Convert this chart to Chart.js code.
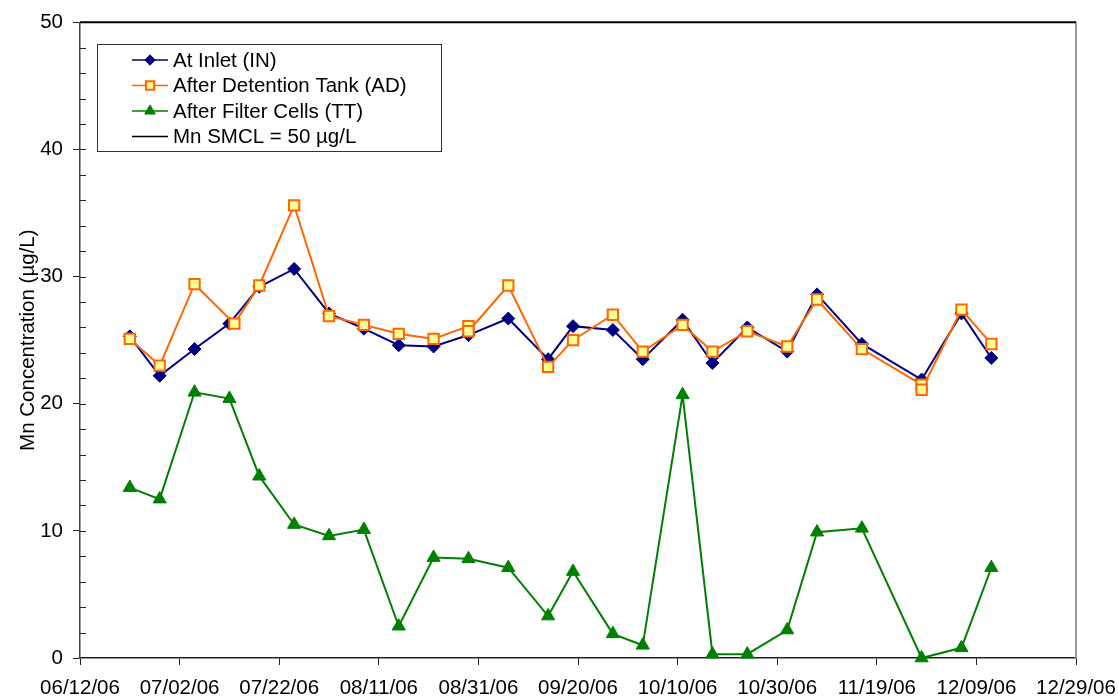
<!DOCTYPE html>
<html><head><meta charset="utf-8">
<script src="https://cdn.jsdelivr.net/npm/chart.js@4.4.0/dist/chart.umd.min.js"></script>
<style>html,body{margin:0;padding:0;background:#fff;}#wrap{width:1118px;height:698px;position:relative;}</style>
</head><body><div id="wrap"><canvas id="c" width="1118" height="698"></canvas></div>
<script>
// ---------- DATA ----------
const axisStart = '06/12/06';
const xTickDates = ['06/12/06','07/02/06','07/22/06','08/11/06','08/31/06','09/20/06','10/10/06','10/30/06','11/19/06','12/09/06','12/29/06'];
const yTickValues = [0,10,20,30,40,50];

const inletDates = ['06/22/06','06/28/06','07/05/06','07/12/06','07/18/06','07/25/06','08/01/06','08/08/06','08/15/06','08/22/06','08/29/06','09/06/06','09/14/06','09/19/06','09/27/06','10/03/06','10/11/06','10/17/06','10/24/06','11/01/06','11/07/06','11/16/06','11/28/06','12/06/06','12/12/06'];
const inletValues = [25.3,22.2,24.3,26.3,29.2,30.6,27.1,25.9,24.6,24.5,25.4,26.7,23.5,26.1,25.8,23.5,26.6,23.2,26.0,24.1,28.6,24.7,21.9,27.1,23.6];

const detentionDates = ['06/22/06','06/28/06','07/05/06','07/13/06','07/18/06','07/25/06','08/01/06','08/08/06','08/15/06','08/22/06','08/29/06','08/29/06','09/06/06','09/14/06','09/19/06','09/27/06','10/03/06','10/11/06','10/17/06','10/24/06','11/01/06','11/07/06','11/16/06','11/28/06','11/28/06','12/06/06','12/12/06'];
const detentionValues = [25.1,23.0,29.4,26.3,29.3,35.6,26.9,26.2,25.5,25.1,26.1,25.7,29.3,22.9,25.0,27.0,24.1,26.2,24.1,25.7,24.5,28.2,24.3,21.5,21.1,27.4,24.7];

const filterDates = ['06/22/06','06/28/06','07/05/06','07/12/06','07/18/06','07/25/06','08/01/06','08/08/06','08/15/06','08/22/06','08/29/06','09/06/06','09/14/06','09/19/06','09/27/06','10/03/06','10/11/06','10/17/06','10/24/06','11/01/06','11/07/06','11/16/06','11/28/06','12/06/06','12/12/06'];
const filterValues = [13.4,12.5,20.9,20.4,14.3,10.5,9.6,10.1,2.5,7.9,7.8,7.1,3.3,6.8,1.9,1.0,20.7,0.3,0.3,2.2,9.9,10.2,0.0,0.8,7.1];

const smclDates = ['06/12/06','12/29/06'];
const smclValues = [50,50];

const seriesNames = ['At Inlet (IN)','After Detention Tank (AD)','After Filter Cells (TT)','Mn SMCL = 50 µg/L'];
const yTitle = 'Mn Concentration (µg/L)';

// ---------- HELPERS ----------
const DAY = 86400000;
function toMs(s){const p=s.split('/');return Date.UTC(2000+ +p[2], +p[0]-1, +p[1]);}
const baseMs = toMs(axisStart);
function toDay(s){return Math.round((toMs(s)-baseMs)/DAY);}
function fmtDay(v){const d=new Date(baseMs+v*DAY);const mm=String(d.getUTCMonth()+1).padStart(2,'0');const dd=String(d.getUTCDate()).padStart(2,'0');const yy=String(d.getUTCFullYear()%100).padStart(2,'0');return mm+'/'+dd+'/'+yy;}
function pts(dates,vals){return dates.map((d,i)=>({x:toDay(d),y:vals[i]}));}

const FONT = '"Liberation Sans", Arial, Helvetica, sans-serif';
const FS = 20.5;
Chart.defaults.font.family = FONT;
Chart.defaults.font.size = FS;
Chart.defaults.color = '#000';

const frame = {
  id:'frame',
  beforeDatasetsDraw(chart){
    const {ctx, chartArea:a, scales:{y}} = chart;
    ctx.save();
    ctx.strokeStyle = '#9a9a9a'; ctx.lineWidth = 2;
    ctx.beginPath(); ctx.moveTo(a.right, a.top); ctx.lineTo(a.right, a.bottom); ctx.stroke();
    ctx.strokeStyle = '#222'; ctx.lineWidth = 1;
    for(let v=2; v<50; v+=2){
      const py = Math.round(y.getPixelForValue(v))+0.5;
      ctx.beginPath(); ctx.moveTo(a.left, py); ctx.lineTo(a.left+6, py); ctx.stroke();
    }
    ctx.restore();
  },
  afterDraw(chart){
    const ctx = chart.ctx;
    ctx.save();
    ctx.fillStyle = '#fff';
    ctx.fillRect(97.5,44.5,344,107);
    ctx.strokeStyle = '#333'; ctx.lineWidth = 1;
    ctx.strokeRect(97.5,44.5,344,107);
    chart.data.datasets.forEach((ds,i)=>{
      const cy = 60 + i*25.5;
      ctx.strokeStyle = ds.borderColor; ctx.lineWidth = 1.5;
      ctx.beginPath(); ctx.moveTo(132, cy); ctx.lineTo(168, cy); ctx.stroke();
      if(ds.pointRadius>0){
        ctx.fillStyle = ds.pointBackgroundColor; ctx.strokeStyle = ds.pointBorderColor;
        ctx.lineWidth = ds.pointBorderWidth;
        Chart.helpers.drawPoint(ctx,{pointStyle:ds.pointStyle, radius:ds.pointRadius*0.8, rotation:0, borderWidth:ds.pointBorderWidth},150,cy);
      }
      ctx.fillStyle = '#000'; ctx.font = FS+'px '+FONT; ctx.textBaseline='middle'; ctx.textAlign='left';
      ctx.fillText(ds.label, 173, cy+1);
    });
    ctx.restore();
  }
};

new Chart(document.getElementById('c'),{
  type:'line',
  data:{datasets:[
    {label:seriesNames[0], data:pts(inletDates,inletValues), borderColor:'#000080', borderWidth:2, pointStyle:'rectRot', pointRadius:6.5, pointBackgroundColor:'#000080', pointBorderColor:'#000080', pointBorderWidth:1, order:1, clip:false, tension:0},
    {label:seriesNames[1], data:pts(detentionDates,detentionValues), borderColor:'#FF6600', borderWidth:2, pointStyle:'rect', pointRadius:7.3, pointBackgroundColor:'#FFFF99', pointBorderColor:'#FF6600', pointBorderWidth:2, order:0, clip:false, tension:0},
    {label:seriesNames[2], data:pts(filterDates,filterValues), borderColor:'#008000', borderWidth:2, pointStyle:'triangle', pointRadius:7.6, pointBackgroundColor:'#008000', pointBorderColor:'#008000', pointBorderWidth:1, order:2, clip:false, tension:0},
    {label:seriesNames[3], data:pts(smclDates,smclValues), borderColor:'#000000', borderWidth:2, pointRadius:0, pointBackgroundColor:'#000', pointBorderColor:'#000', pointBorderWidth:0, order:3, clip:false, tension:0}
  ]},
  options:{
    responsive:false, animation:false, devicePixelRatio:1,
    layout:{padding:{top:19,right:42,left:0,bottom:0}},
    plugins:{legend:{display:false}, tooltip:{enabled:false}},
    scales:{
      x:{type:'linear', min:toDay(xTickDates[0]), max:toDay(xTickDates[xTickDates.length-1]),
        afterBuildTicks(s){s.ticks = xTickDates.map(d=>({value:toDay(d)}));},
        afterFit(s){s.height=40; s.paddingLeft=0; s.paddingRight=0;},
        grid:{drawOnChartArea:false, tickLength:7, color:'#222', tickWidth:1},
        border:{color:'#222', width:1.5},
        ticks:{padding:11, maxRotation:0, autoSkip:false, callback:(v)=>fmtDay(v)}},
      y:{type:'linear', min:yTickValues[0], max:yTickValues[yTickValues.length-1],
        afterBuildTicks(s){s.ticks = yTickValues.map(v=>({value:v}));},
        afterFit(s){s.width=80;},
        grid:{drawOnChartArea:false, tickLength:7, color:'#222', tickWidth:1},
        border:{color:'#444', width:1.5},
        ticks:{padding:10},
        title:{display:true, text:yTitle, padding:{top:16,bottom:0}}}
    }
  },
  plugins:[frame]
});
</script></body></html>
